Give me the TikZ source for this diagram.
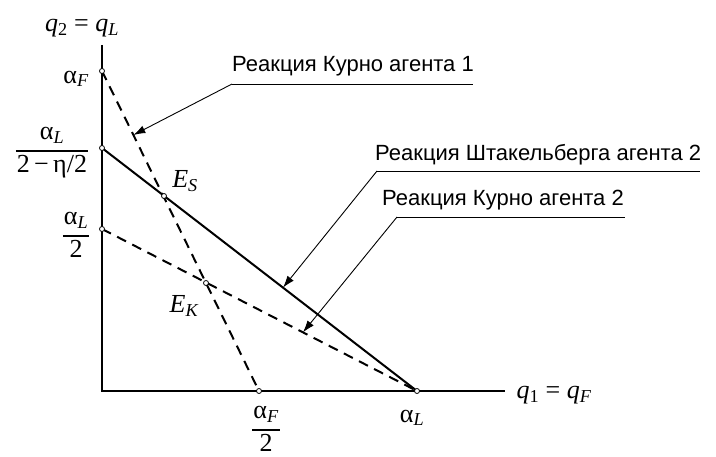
\documentclass[tikz,border=0pt]{standalone}
\usepackage{fontspec}
\setmainfont{Liberation Serif}
\setsansfont{Liberation Sans}
\usetikzlibrary{arrows.meta,calc}
\newcommand\mysub[1]{\textsubscript{\itshape #1}}
\newcommand\myfrac[2]{\setlength\arrayrulewidth{1.3pt}\setlength\tabcolsep{1pt}%
  \begin{tabular}{c}#1\\[2pt]\hline\rule{0pt}{21pt}#2\end{tabular}}
\begin{document}
\begin{tikzpicture}[x=1pt,y=-1pt,
  axisline/.style={line width=1.2pt},
  reactline/.style={line width=2pt},
  reactdash/.style={line width=2pt,dash pattern=on 10pt off 7pt},
  leader/.style={line width=0.9pt},
  leadarrow/.style={line width=0.9pt,-{Latex[length=12pt,width=8pt]}},
  dot/.style={circle,draw,fill=white,inner sep=0pt,minimum size=5pt,line width=0.8pt},
  mlab/.style={font=\fontsize{26}{30}\selectfont,inner sep=0pt},
  slab/.style={font=\sffamily\fontsize{22}{26}\selectfont,inner sep=0pt,anchor=base west}]
\useasboundingbox (0,0) rectangle (716,457);
% key points
\coordinate (O) at (102,391);
\coordinate (ytop) at (102,45);
\coordinate (xend) at (505,391);
\coordinate (aF) at (102,71);
\coordinate (S1) at (102,148);
\coordinate (K2) at (102,229);
\coordinate (aF2) at (259,391);
\coordinate (aL) at (417,391);
\coordinate (ES) at (164,196);
\coordinate (EK) at (206,283);
% axes
\draw[axisline] (ytop) -- (O) -- (xend);
% reaction lines
\draw[reactdash] (aF) -- (aF2);
\draw[reactline] (S1) -- (aL);
\draw[reactdash] (K2) -- (aL);
% points
\foreach \p in {aF,S1,K2,aF2,aL,ES,EK} \node[dot] (d\p) at (\p) {};
% axis labels
\node[mlab] (ylab) at (82,28) {\textit{q}\textsubscript{2} = \textit{q}\mysub{L}};
\node[mlab] (xlab) at (554,395) {\textit{q}\textsubscript{1} = \textit{q}\mysub{F}};
\node[mlab] (laF) at (76,79) {α\mysub{F}};
\node[mlab] (lS1) at (52,150) {\myfrac{α\mysub{L}}{2\,−\,η/2}};
\node[mlab] (lK2) at (76,235) {\myfrac{α\mysub{L}}{2}};
\node[mlab] (lES) at (185,181) {\textit{E}\mysub{S}};
\node[mlab] (lEK) at (184,306) {\textit{E}\mysub{K}};
\node[mlab] (laF2) at (266,429) {\myfrac{α\mysub{F}}{2}};
\node[mlab] (laL) at (412,418) {α\mysub{L}};
% callouts
\node[slab] (t1) at (232,72) {Реакция Курно агента 1};
\node[slab] (t2) at (375,161) {Реакция Штакельберга агента 2};
\node[slab] (t3) at (382,206) {Реакция Курно агента 2};
\coordinate (c1) at (232,84); \coordinate (e1) at (473,84);
\coordinate (c2) at (377,171); \coordinate (e2) at (700,171);
\coordinate (c3) at (397,217); \coordinate (e3) at (625,217);
\coordinate (p1) at ($(aF)!0.2!(aF2)$);
\coordinate (p2) at ($(S1)!0.5746!(aL)$);
\coordinate (p3) at ($(K2)!0.638!(aL)$);
\draw[leader] (c1) -- (e1);
\draw[leader] (c2) -- (e2);
\draw[leader] (c3) -- (e3);
\draw[leadarrow] (c1) -- (p1);
\draw[leadarrow] (c2) -- (p2);
\draw[leadarrow] (c3) -- (p3);
\end{tikzpicture}
\end{document}
